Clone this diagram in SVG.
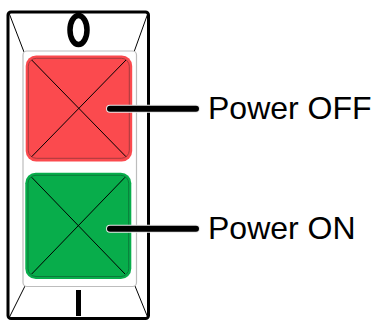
<svg xmlns="http://www.w3.org/2000/svg" width="373" height="320" viewBox="0 0 373 320">
<style>
.thin{fill:none;stroke:#000;stroke-width:1}
.x{fill:none;stroke:#000;stroke-width:1}
.halo{fill:none;stroke:#e8e8e8;stroke-width:8;stroke-linecap:round}
.lead{fill:none;stroke:#000;stroke-width:6;stroke-linecap:round}
text{font-family:"Liberation Sans",Arial,sans-serif;font-size:32px;fill:#000}
</style>
<rect width="373" height="320" fill="#fff"/>
<g id="housing">
<rect x="8" y="12" width="140.500" height="306.500" rx="3" fill="#fff" stroke="#000" stroke-width="3"/>
<path class="thin" d="M9 13L24 52M148 13L134 52M25 286L9 318M135 286L148 318"/>
<rect x="23" y="51" width="113.500" height="235.500" rx="4" fill="#fff" stroke="#bdbdbd" stroke-width="1.200"/>
<ellipse cx="78.500" cy="30" rx="8.500" ry="14.500" fill="none" stroke="#000" stroke-width="5.500"/>
<rect x="76" y="290" width="5" height="26" fill="#000"/>
</g>
<g id="power-off-button">
<rect x="25.700" y="55.500" width="106.500" height="106" rx="10.500" fill="#fb4a4e"/>
<rect x="28.300" y="58.300" width="101" height="100" rx="8" fill="none" stroke="#a83a3e" stroke-width="1"/>
<path class="x" d="M31.700 60L126 156.700M126 60L31.700 156.700"/>
</g>
<g id="power-on-button">
<rect x="25.300" y="172.700" width="106" height="106.300" rx="10.500" fill="#08ad4b"/>
<rect x="28" y="175.300" width="100.700" height="101.200" rx="8" fill="none" stroke="#0a7a3a" stroke-width="1"/>
<path class="x" d="M31.700 177.300L125 274M125 177.300L31.700 274"/>
</g>
<g id="connectors">
<path class="halo" d="M110 108.700H196"/>
<path class="lead" d="M110 108.700H196"/>
<path class="halo" d="M110 228.700H196"/>
<path class="lead" d="M110 228.700H196"/>
</g>
<g id="label-off"><text x="208" y="119.300">Power OFF</text></g>
<g id="label-on"><text x="208" y="238.700">Power ON</text></g>
</svg>
